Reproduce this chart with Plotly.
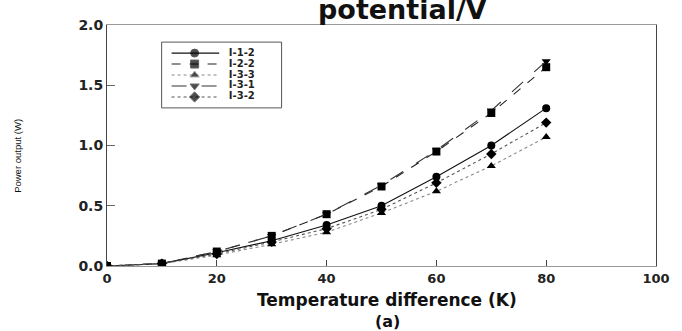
import plotly.graph_objects as go

temp_diff = [0, 10, 20, 30, 40, 50, 60, 70, 80]
series_names = ["I-1-2", "I-2-2", "I-3-3", "I-3-1", "I-3-2"]
p_i12 = [0, 0.02, 0.11, 0.21, 0.34, 0.50, 0.74, 1.00, 1.31]
p_i22 = [0, 0.02, 0.12, 0.25, 0.43, 0.66, 0.95, 1.27, 1.65]
p_i33 = [0, 0.02, 0.09, 0.18, 0.28, 0.44, 0.62, 0.83, 1.07]
p_i31 = [0, 0.02, 0.12, 0.25, 0.43, 0.67, 0.96, 1.29, 1.70]
p_i32 = [0, 0.02, 0.10, 0.20, 0.31, 0.47, 0.69, 0.93, 1.19]
x_ticks = [0, 20, 40, 60, 80, 100]
y_ticks = [0.0, 0.5, 1.0, 1.5, 2.0]

values = [p_i12, p_i22, p_i33, p_i31, p_i32]
symbols = ["circle", "square", "triangle-up", "triangle-down", "diamond"]
dashes = ["solid", "dash", "dot", "longdash", "dot"]
colors = ["#111", "#222", "#888", "#333", "#555"]

FONT = "DejaVu Sans, Verdana, Arial"

fig = go.Figure()
for name, vals, sym, dash, col in zip(series_names, values, symbols, dashes, colors):
    fig.add_trace(go.Scatter(
        x=temp_diff, y=vals, name=name, mode="lines+markers",
        line=dict(color=col, width=1.1, dash=dash),
        marker=dict(symbol=sym, size=8, color="#000"),
        showlegend=False,
    ))

# Compact legend drawn on its own small axes (row index -> vertical slot)
for i, (name, sym, dash, col) in enumerate(zip(series_names, symbols, dashes, colors)):
    fig.add_trace(go.Scatter(
        x=[0.083, 0.275, 0.48], y=[i, i, i], mode="lines+markers",
        line=dict(color=col, width=1.1, dash=dash),
        marker=dict(symbol=sym, size=[0, 8, 0], color="#000"),
        xaxis="x2", yaxis="y2", showlegend=False, hoverinfo="skip",
    ))
    fig.add_trace(go.Scatter(
        x=[0.56], y=[i], mode="text", text=[name], textposition="middle right",
        textfont=dict(family=FONT, size=10, color="#222", weight=700),
        xaxis="x2", yaxis="y2", showlegend=False, hoverinfo="skip",
    ))

tickfont = dict(family=FONT, size=13, color="#222", weight=700)
fig.update_layout(
    width=682, height=331,
    margin=dict(l=107, r=22, t=25, b=65),
    paper_bgcolor="white", plot_bgcolor="white",
    showlegend=False,
    xaxis=dict(
        range=[0, 100], tickvals=x_ticks, ticks="inside", ticklen=6,
        tickcolor="#444", showgrid=False, zeroline=False, showline=True,
        linecolor="#999", linewidth=1, mirror=True, tickfont=tickfont,
    ),
    yaxis=dict(
        range=[0, 2.0], tickvals=y_ticks, tickformat=".1f", ticks="inside", ticklen=8,
        tickcolor="#666", showgrid=False, zeroline=False, showline=True,
        linecolor="#444", linewidth=1, mirror=True,
        tickfont=dict(family=FONT, size=14, color="#222", weight=700),
        ticksuffix="\u00a0\u00a0",
    ),
    xaxis2=dict(domain=[0.0995, 0.318], range=[0, 1], visible=False, fixedrange=True),
    yaxis2=dict(domain=[0.656, 0.929], range=[5, -1], visible=False, fixedrange=True),
    shapes=[dict(type="rect", xref="x2 domain", yref="y2 domain", x0=0, x1=1, y0=0, y1=1,
                 line=dict(color="#555", width=1), fillcolor="rgba(0,0,0,0)")],
    annotations=[
        dict(text="potential/V", xref="paper", yref="paper", x=0.539, y=0.993,
             xanchor="center", yanchor="bottom", showarrow=False,
             font=dict(family=FONT, size=27, color="#111", weight=700)),
        dict(text="Temperature difference (K)", xref="paper", yref="paper", x=0.51, y=-0.141,
             xanchor="center", yanchor="middle", showarrow=False,
             font=dict(family=FONT, size=17, color="#111", weight=700)),
        dict(text="(a)", xref="paper", yref="paper", x=0.511, y=-0.232,
             xanchor="center", yanchor="middle", showarrow=False,
             font=dict(family=FONT, size=16, color="#111", weight=700)),
        dict(text="Power output (W)", xref="paper", yref="paper", x=-0.163, y=0.455,
             xanchor="center", yanchor="middle", showarrow=False, textangle=-90,
             font=dict(family="Liberation Sans, Arial", size=9.5, color="#111")),
    ],
)

fig.write_html("out.html", config={"displayModeBar": False},
               post_script="document.body.style.margin='0';")
